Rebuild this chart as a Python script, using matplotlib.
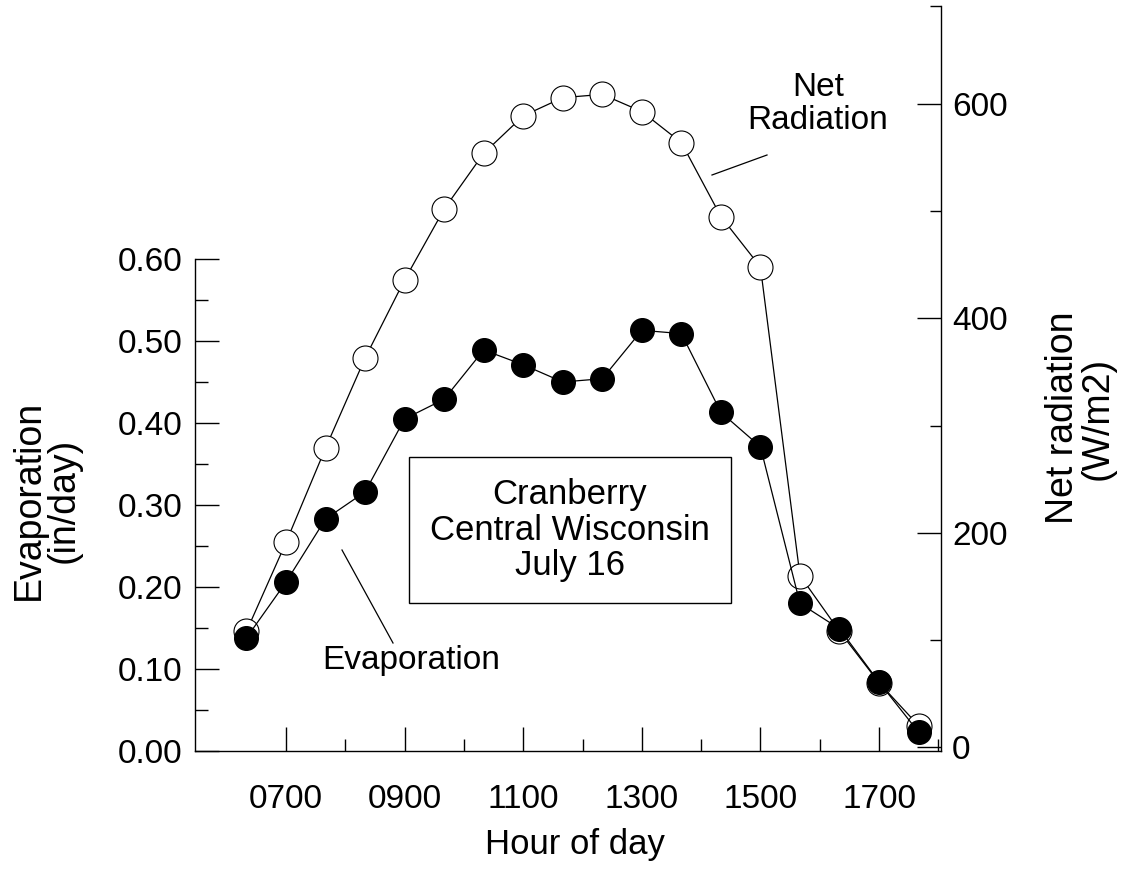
import numpy as np
import matplotlib.pyplot as plt
from matplotlib.ticker import FixedLocator

plt.rcParams['font.family'] = ['Liberation Sans', 'DejaVu Sans']

# sample times (hhmm), every 40 minutes
times = ['0620', '0700', '0740', '0820', '0900', '0940', '1020', '1100', '1140',
         '1220', '1300', '1340', '1420', '1500', '1540', '1620', '1700', '1740']

# evaporation (in/day), filled circles, left axis
evaporation = [0.138, 0.206, 0.283, 0.316, 0.405, 0.429, 0.489, 0.471, 0.450,
               0.454, 0.513, 0.509, 0.413, 0.371, 0.180, 0.149, 0.084, 0.023]

# net radiation (W/m2), open circles, right axis
net_radiation = [108, 191, 279, 363, 436, 502, 554, 589, 606,
                 609, 593, 564, 495, 448, 160, 108, 60, 20]

hour_ticks = [7, 9, 11, 13, 15, 17]
hour_labels = ['0700', '0900', '1100', '1300', '1500', '1700']
evap_ticks = [0.0, 0.1, 0.2, 0.3, 0.4, 0.5, 0.6]
rad_ticks = [0, 200, 400, 600]

hours = np.array([int(t[:2]) + int(t[2:]) / 60 for t in times])

fig = plt.figure(figsize=(11.22, 8.72), dpi=100)
W, H = 1122, 872
ax = fig.add_axes([195 / W, (H - 751) / H, (941 - 195) / W, (751 - 6) / H])
ax2 = ax.twinx()

# net radiation (drawn underneath)
ax2.plot(hours, net_radiation, color='black', lw=0.9, marker='o', ms=18,
         mfc='white', mec='black', mew=0.8, zorder=2)
rad_lim = (-3.7, 691.5)
ax2.set_ylim(*rad_lim)

# evaporation on top
ax.plot(hours, evaporation, color='black', lw=0.9, marker='o', ms=17,
        mfc='black', mec='black', zorder=3)
ax.set_zorder(ax2.get_zorder() + 1)
ax.patch.set_visible(False)

ax.set_xlim(5.465, 18.045)
ax.set_ylim(0, 0.9085)

# spines
for s in ['top', 'right']:
    ax.spines[s].set_visible(False)
for s in ['top', 'left', 'bottom']:
    ax2.spines[s].set_visible(False)
ax.spines['left'].set_bounds(0, 0.6)
for sp in [ax.spines['left'], ax.spines['bottom'], ax2.spines['right']]:
    sp.set_linewidth(1.0)

# ticks
ax.set_xticks(hour_ticks)
ax.set_xticklabels(hour_labels)
ax.xaxis.set_minor_locator(FixedLocator([8, 10, 12, 14, 16, 18]))
ax.set_yticks(evap_ticks)
ax.set_yticklabels(['%.2f' % v for v in evap_ticks])
ax.yaxis.set_minor_locator(FixedLocator([0.05, 0.15, 0.25, 0.35, 0.45, 0.55]))
ax2.set_yticks(rad_ticks)
ax2.yaxis.set_minor_locator(FixedLocator([100, 300, 500, rad_lim[1]]))

ax.tick_params(axis='x', which='major', direction='in', length=17, width=1,
               labelsize=24, pad=24)
ax.tick_params(axis='x', which='minor', direction='in', length=9, width=1)
ax.tick_params(axis='y', which='major', direction='in', length=17, width=1,
               labelsize=24, pad=9)
ax.tick_params(axis='y', which='minor', direction='in', length=9, width=1)
ax2.tick_params(axis='y', which='major', direction='in', length=17, width=1,
                labelsize=24, pad=8)
ax2.tick_params(axis='y', which='minor', direction='in', length=8, width=1)

# axis labels
fig.text(46 / W, 1 - 500 / H, 'Evaporation\n(in/day)', rotation=90,
         ha='center', va='center', fontsize=27, linespacing=0.95)
fig.text(1080 / W, 1 - 418 / H, 'Net radiation\n(W/m2)', rotation=90,
         ha='center', va='center', fontsize=27, linespacing=0.95)
fig.text(575 / W, 1 - 844 / H, 'Hour of day', ha='center', va='center',
         fontsize=25)

# boxed site note
fig.text(570 / W, 1 - 530 / H, 'Cranberry\nCentral Wisconsin\nJuly 16',
         ha='center', va='center', fontsize=25, linespacing=1.1,
         bbox=dict(boxstyle='square,pad=0.6', fc='white', ec='black', lw=1.0))

# series annotations with leader lines
fig.text(411 / W, 1 - 660 / H, 'Evaporation', ha='center', va='center',
         fontsize=24)
fig.add_artist(plt.Line2D([342 / W, 393 / W], [1 - 550 / H, 1 - 643 / H],
                          color='black', lw=0.9))
fig.text(818 / W, 1 - 104 / H, 'Net\nRadiation', ha='center', va='center',
         fontsize=24, linespacing=1.1)
fig.add_artist(plt.Line2D([712 / W, 767 / W], [1 - 175 / H, 1 - 155 / H],
                          color='black', lw=0.9))

fig.savefig('out.png', dpi=100)
